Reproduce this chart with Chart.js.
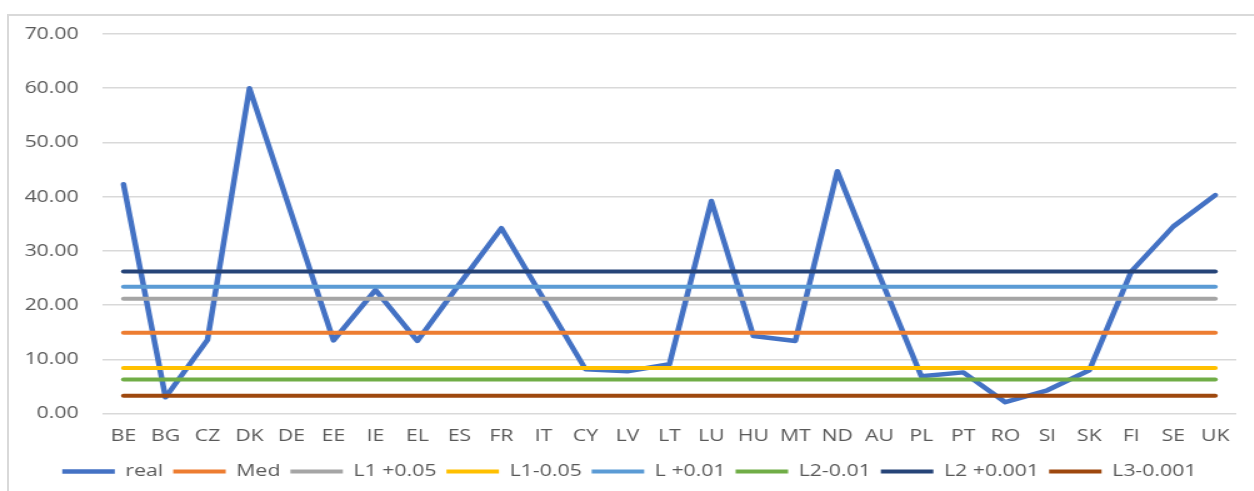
<!DOCTYPE html>
<html>
<head>
<meta charset="utf-8">
<script src="https://cdn.jsdelivr.net/npm/chart.js@4/dist/chart.umd.min.js"></script>
<style>
  html, body { margin: 0; padding: 0; background: #fff; overflow: hidden; }
  #frame { position: absolute; left: 7px; top: 14px; width: 1400px; height: 600px; border: 2px solid #d9d9d9; }
  /* the reference picture is stretched sideways, so the chart is too */
  #wrap { position: absolute; left: 0; top: 0; width: 1003px; height: 491px; transform: scale(1.25, 1); transform-origin: 0 0; }
</style>
</head>
<body>
<div id="frame"></div>
<div id="wrap"><canvas id="chart"></canvas></div>
<script>
const countries = ['BE', 'BG', 'CZ', 'DK', 'DE', 'EE', 'IE', 'EL', 'ES', 'FR', 'IT', 'CY', 'LV', 'LT',
  'LU', 'HU', 'MT', 'ND', 'AU', 'PL', 'PT', 'RO', 'Sl', 'SK', 'FI', 'SE', 'UK'];

const real = [42.3, 3.0, 13.6, 60.0, 36.8, 13.5, 22.8, 13.4, 23.9, 34.2, 21.2, 8.2, 7.8, 9.1,
  39.2, 14.3, 13.4, 44.7, 25.5, 6.9, 7.6, 2.1, 4.3, 8.0, 26.2, 34.5, 40.3];

// reference levels (flat lines)
const med = 14.9;
const l1Plus005 = 21.2;
const l1Minus005 = 8.4;
const lPlus001 = 23.4;
const l2Minus001 = 6.3;
const l2Plus0001 = 26.2;
const l3Minus0001 = 3.3;

const flat = (v) => countries.map(() => v);

function series(label, data, color, width, order) {
  return {
    label,
    data,
    borderColor: color,
    backgroundColor: color,
    borderWidth: width,
    borderCapStyle: 'round',
    borderJoinStyle: 'round',
    pointRadius: 0,
    pointHoverRadius: 0,
    tension: 0,
    order,
  };
}

const textColor = '#595959';
const font = { family: "'Open Sans', sans-serif", size: 17 };

new Chart(document.getElementById('chart'), {
  type: 'line',
  data: {
    labels: countries,
    datasets: [
      series('real', real, '#4472C4', 4.5, 1),
      series('Med', flat(med), '#ED7D31', 4, 0),
      series('L1 +0.05', flat(l1Plus005), '#A5A5A5', 4, 0),
      series('L1-0.05', flat(l1Minus005), '#FFC000', 4, 0),
      series('L +0.01', flat(lPlus001), '#5B9BD5', 4, 0),
      series('L2-0.01', flat(l2Minus001), '#70AD47', 4, 0),
      series('L2 +0.001', flat(l2Plus0001), '#264478', 4, 0),
      series('L3-0.001', flat(l3Minus0001), '#9E480E', 4, 0),
    ],
  },
  options: {
    responsive: true,
    maintainAspectRatio: false,
    animation: false,
    events: [],
    layout: { padding: { top: 34, right: 14, left: 18, bottom: 1 } },
    plugins: {
      tooltip: { enabled: false },
      legend: {
        position: 'bottom',
        labels: {
          usePointStyle: true,
          pointStyle: 'line',
          pointStyleWidth: 42,
          padding: 8,
          color: textColor,
          font,
          sort: (a, b) => a.datasetIndex - b.datasetIndex,
        },
      },
    },
    scales: {
      x: {
        offset: true,
        grid: { display: false, drawTicks: false, offset: true },
        border: { display: false },
        ticks: { color: textColor, font, padding: 12, maxRotation: 0, autoSkip: false },
        afterFit: (s) => { s.height -= 3; },
      },
      y: {
        min: 0,
        max: 70,
        grid: { color: '#d9d9d9', lineWidth: 1.5, drawTicks: false },
        border: { display: false },
        ticks: {
          stepSize: 10,
          color: textColor,
          font,
          padding: 19,
          callback: (v) => v.toFixed(2),
        },
        afterFit: (s) => { s.width = 64; },
      },
    },
  },
});
</script>
</body>
</html>
